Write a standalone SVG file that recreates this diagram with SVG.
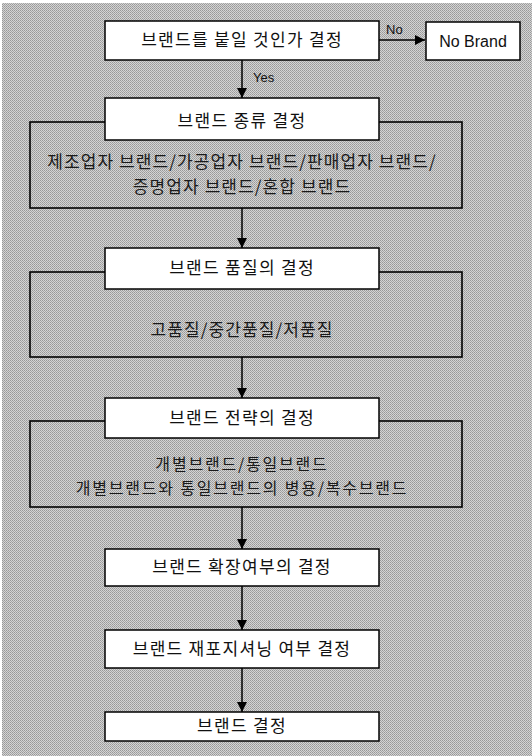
<svg xmlns="http://www.w3.org/2000/svg" width="532" height="756" viewBox="0 0 532 756">
  <defs>
    <pattern id="tex" width="2" height="2" patternUnits="userSpaceOnUse">
      <rect width="2" height="2" fill="#d4d4d4"/>
      <rect width="1" height="1" fill="#989898"/>
      <rect x="1" y="1" width="1" height="1" fill="#a6a6a6"/>
    </pattern>
    <marker id="ah" viewBox="0 0 10 10" refX="10" refY="5" markerWidth="10" markerHeight="10" markerUnits="userSpaceOnUse" orient="auto">
      <path d="M0,0 L10,5 L0,10 Z" fill="#000"/>
    </marker>
    <style>
      .box { fill: #fff; stroke: #000; stroke-width: 1.5; }
      .panel { fill: none; stroke: #000; stroke-width: 1.6; }
      .kt { font-family: "Noto Sans CJK KR", "Noto Sans", sans-serif; font-size: 17px; letter-spacing: 1.3px; fill: #111; text-anchor: middle; }
      .pt { font-family: "Noto Sans CJK KR", "Noto Sans", sans-serif; font-size: 17px; letter-spacing: 1.1px; fill: #1a1a1a; text-anchor: middle; }
      .pt2 { font-family: "Noto Sans CJK KR", "Noto Sans", sans-serif; font-size: 16px; letter-spacing: 1.8px; fill: #1a1a1a; text-anchor: middle; }
      .lt { font-family: "Liberation Sans", Arial, sans-serif; fill: #111; }
      .conn { stroke: #000; stroke-width: 1.5; fill: none; }
    </style>
  </defs>

  <rect width="532" height="756" fill="#fff"/>
  <rect x="2" y="3" width="530" height="753" fill="url(#tex)"/>

  <g id="panel-type">
    <rect class="panel" x="30" y="122" width="432" height="86"/>
    <text class="pt" x="242" y="168">제조업자 브랜드/가공업자 브랜드/판매업자 브랜드/</text>
    <text class="pt" x="242" y="193">증명업자 브랜드/혼합 브랜드</text>
  </g>
  <g id="panel-quality">
    <rect class="panel" x="30" y="272" width="432" height="85"/>
    <text class="pt" x="242" y="336">고품질/중간품질/저품질</text>
  </g>
  <g id="panel-strategy">
    <rect class="panel" x="30" y="421" width="432" height="86"/>
    <text class="pt2" x="242" y="470">개별브랜드/통일브랜드</text>
    <text class="pt2" x="242" y="494">개별브랜드와 통일브랜드의 병용/복수브랜드</text>
  </g>

  <g id="connectors">
    <line class="conn" x1="379" y1="40" x2="425" y2="40" marker-end="url(#ah)"/>
    <line class="conn" x1="242" y1="60" x2="242" y2="98" marker-end="url(#ah)"/>
    <line class="conn" x1="242" y1="208" x2="242" y2="248" marker-end="url(#ah)"/>
    <line class="conn" x1="242" y1="357" x2="242" y2="398" marker-end="url(#ah)"/>
    <line class="conn" x1="242" y1="507" x2="242" y2="549" marker-end="url(#ah)"/>
    <line class="conn" x1="242" y1="586" x2="242" y2="630" marker-end="url(#ah)"/>
    <line class="conn" x1="242" y1="668" x2="242" y2="712" marker-end="url(#ah)"/>
    <text class="lt" x="386" y="34" font-size="13">No</text>
    <text class="lt" x="253" y="82" font-size="13">Yes</text>
  </g>

  <g id="n-decide">
    <rect class="box" x="105" y="21" width="274" height="39"/>
    <text class="kt" x="242" y="46">브랜드를 붙일 것인가 결정</text>
  </g>
  <g id="n-nobrand">
    <rect class="box" x="426" y="22" width="94" height="38"/>
    <text class="lt" x="473" y="47" font-size="16" text-anchor="middle">No Brand</text>
  </g>
  <g id="n-type">
    <rect class="box" x="105" y="98" width="274" height="42"/>
    <text class="kt" x="242" y="127">브랜드 종류 결정</text>
  </g>
  <g id="n-quality">
    <rect class="box" x="105" y="248" width="274" height="41"/>
    <text class="kt" x="242" y="274">브랜드 품질의 결정</text>
  </g>
  <g id="n-strategy">
    <rect class="box" x="105" y="398" width="274" height="40"/>
    <text class="kt" x="242" y="424">브랜드 전략의 결정</text>
  </g>
  <g id="n-extension">
    <rect class="box" x="105" y="549" width="274" height="37"/>
    <text class="kt" x="242" y="573">브랜드 확장여부의 결정</text>
  </g>
  <g id="n-reposition">
    <rect class="box" x="105" y="630" width="274" height="38"/>
    <text class="kt" x="242" y="655">브랜드 재포지셔닝 여부 결정</text>
  </g>
  <g id="n-final">
    <rect class="box" x="105" y="712" width="274" height="29"/>
    <text class="kt" x="242" y="732">브랜드 결정</text>
  </g>
</svg>
